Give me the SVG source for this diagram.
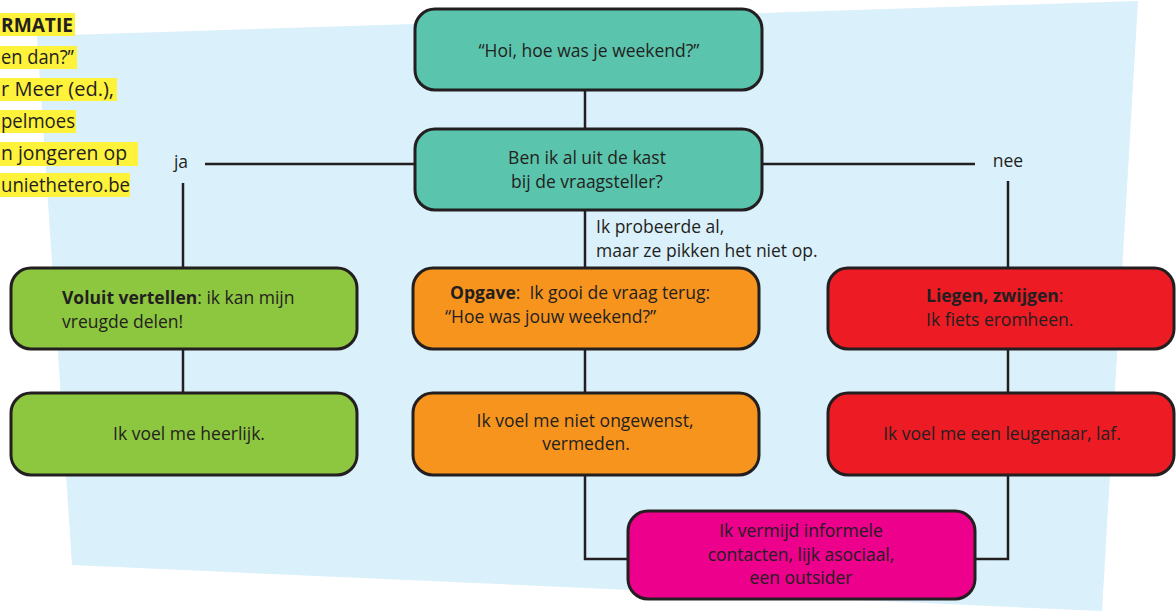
<svg xmlns="http://www.w3.org/2000/svg" width="1176" height="611" viewBox="0 0 1176 611">
<style>
  text { font-family: "Open Sans", "Noto Sans", sans-serif; font-size: 17.5px; fill: #231f20; }
  .b { font-weight: bold; }
  .side { font-size: 20px; }
  .box { stroke: #231f20; stroke-width: 3; }
  .teal { fill: #5bc4ad; }
  .green { fill: #8dc63f; }
  .orange { fill: #f7941d; }
  .red { fill: #ed1c24; }
  .pink { fill: #ec008c; }
  .hl { fill: #fff23a; }
  #connectors path { fill: none; stroke: #231f20; stroke-width: 2.5; }
</style>
<rect width="1176" height="611" fill="#ffffff"/>
<polygon points="37,36 1138,1 1102,611 72,565" fill="#daf0fb"/>

<g id="sidebar">
  <rect class="hl" x="0" y="13" width="75" height="23"/>
  <rect class="hl" x="0" y="46" width="77" height="23"/>
  <rect class="hl" x="0" y="78" width="117" height="23"/>
  <rect class="hl" x="0" y="110" width="76" height="23"/>
  <rect class="hl" x="0" y="142" width="138" height="24"/>
  <rect class="hl" x="0" y="173" width="130" height="24"/>
  <text class="side b" x="1" y="32" textLength="72" lengthAdjust="spacingAndGlyphs">RMATIE</text>
  <text class="side" x="1" y="64" textLength="73" lengthAdjust="spacingAndGlyphs">en dan?”</text>
  <text class="side" x="1" y="96" textLength="113" lengthAdjust="spacingAndGlyphs">r Meer (ed.),</text>
  <text class="side" x="1" y="128" textLength="74" lengthAdjust="spacingAndGlyphs">pelmoes</text>
  <text class="side" x="1" y="160" textLength="126" lengthAdjust="spacingAndGlyphs">n jongeren op</text>
  <text class="side" x="1" y="192" textLength="129" lengthAdjust="spacingAndGlyphs">uniethetero.be</text>
</g>

<g id="connectors">
  <path d="M585,90 V129"/>
  <path d="M415,164 H205"/>
  <path d="M762,164 H975"/>
  <path d="M183,183 V268"/>
  <path d="M1008,181 V268"/>
  <path d="M585,210 V268"/>
  <path d="M183,349 V393"/>
  <path d="M585,349 V393"/>
  <path d="M1008,349 V393"/>
  <path d="M585,475 V559 H628"/>
  <path d="M1008,475 V559 H975"/>
</g>

<g id="labels">
  <text x="181" y="168" text-anchor="middle">ja</text>
  <text x="1008" y="167" text-anchor="middle">nee</text>
  <text x="596" y="233">Ik probeerde al,</text>
  <text x="596" y="257">maar ze pikken het niet op.</text>
</g>

<g id="n1">
  <rect class="box teal" x="415" y="9" width="347" height="81" rx="20"/>
  <text x="589" y="57" text-anchor="middle">“Hoi, hoe was je weekend?”</text>
</g>
<g id="n2">
  <rect class="box teal" x="415" y="129" width="347" height="81" rx="20"/>
  <text x="587" y="164" text-anchor="middle">Ben ik al uit de kast</text>
  <text x="587" y="188" text-anchor="middle">bij de vraagsteller?</text>
</g>
<g id="n3">
  <rect class="box green" x="11" y="268" width="346" height="81" rx="20"/>
  <text x="62" y="304"><tspan class="b">Voluit vertellen</tspan>: ik kan mijn</text>
  <text x="62" y="328">vreugde delen!</text>
</g>
<g id="n4">
  <rect class="box orange" x="413" y="268" width="346" height="81" rx="20"/>
  <text x="450" y="299"><tspan class="b">Opgave</tspan>:<tspan dx="9">Ik gooi de vraag terug:</tspan></text>
  <text x="445" y="323">“Hoe was jouw weekend?”</text>
</g>
<g id="n5">
  <rect class="box red" x="828" y="268" width="346" height="81" rx="20"/>
  <text x="926" y="302"><tspan class="b">Liegen, zwijgen</tspan>:</text>
  <text x="926" y="326">Ik fiets eromheen.</text>
</g>
<g id="n6">
  <rect class="box green" x="11" y="393" width="346" height="82" rx="20"/>
  <text x="189" y="440" text-anchor="middle">Ik voel me heerlijk.</text>
</g>
<g id="n7">
  <rect class="box orange" x="413" y="393" width="346" height="82" rx="20"/>
  <text x="585" y="427" text-anchor="middle">Ik voel me niet ongewenst,</text>
  <text x="586" y="450" text-anchor="middle">vermeden.</text>
</g>
<g id="n8">
  <rect class="box red" x="828" y="393" width="346" height="82" rx="20"/>
  <text x="1002" y="440" text-anchor="middle">Ik voel me een leugenaar, laf.</text>
</g>
<g id="n9">
  <rect class="box pink" x="628" y="511" width="347" height="88" rx="20"/>
  <text x="801" y="537" text-anchor="middle">Ik vermijd informele</text>
  <text x="801" y="561" text-anchor="middle">contacten, lijk asociaal,</text>
  <text x="801" y="584" text-anchor="middle">een outsider</text>
</g>
</svg>
